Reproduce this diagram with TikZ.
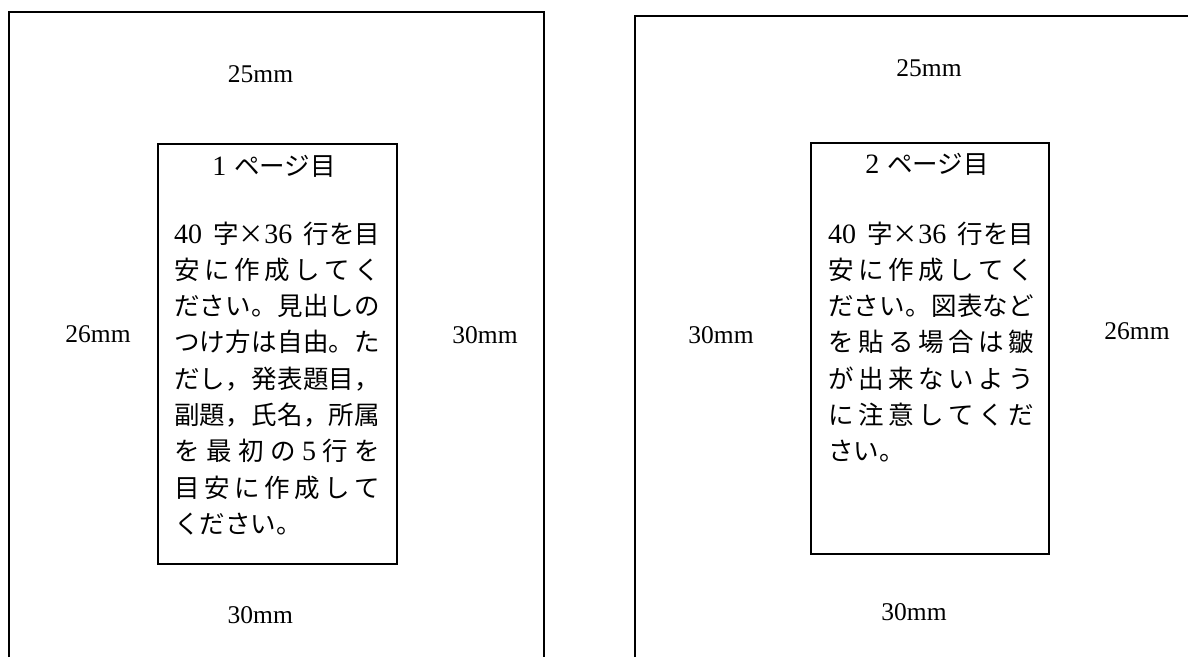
\documentclass[tikz,border=0pt]{standalone}
\usepackage{fontspec}
\setmainfont{Liberation Serif}
\newfontfamily\jp{Noto Sans CJK JP}
\newlength\jw \setlength\jw{206pt}
\newcommand\G{\hfil}
\newcommand\lat[1]{{\rmfamily\fontsize{28}{30}\selectfont #1}}
\newcommand\jl[1]{\hbox to \jw{#1}}
\begin{document}
\begin{tikzpicture}[x=1pt,y=-1pt,
  frame/.style={line width=1.5pt, draw=black},
  pagebox/.style={frame, inner sep=0pt, anchor=north west},
  lab/.style={anchor=base, inner sep=0pt, font=\fontsize{25.5}{30}\selectfont},
  jtxt/.style={anchor=base west, inner sep=0pt, font=\fontsize{25.5}{30}\selectfont\jp},
  jtitle/.style={anchor=base, inner sep=0pt, font=\fontsize{25.5}{30}\selectfont\jp}]
\fill[white] (0,0) rectangle (1188,657);
\useasboundingbox (0,0) rectangle (1188,657);

% outer page frames (open at bottom / right)
\draw[frame] (9,657) -- (9,12) -- (544,12) -- (544,657);
\draw[frame] (635,657) -- (635,16) -- (1188,16);

% inner text areas
\node[pagebox, minimum width=239pt, minimum height=420pt] (boxL) at (157,143) {};
\node[pagebox, minimum width=238pt, minimum height=411pt] (boxR) at (810,142) {};

% margin labels, left page
\node[lab] (lTop) at (260.5,82.6) {25mm};
\node[lab] (lLeft) at (98,342.6) {26mm};
\node[lab] (lRight) at (485,343.5) {30mm};
\node[lab] (lBottom) at (260.3,623.3) {30mm};

% margin labels, right page
\node[lab] (rTop) at (929,76) {25mm};
\node[lab] (rLeft) at (721,343.5) {30mm};
\node[lab] (rRight) at (1137,339) {26mm};
\node[lab] (rBottom) at (914,620.6) {30mm};

% left page text
\node[jtitle] (tL) at (274,175) {\lat{1}\hspace{0.3em}ページ目};
\node[jtxt] (l1) at (174,243) {\jl{\lat{40}\G 字×\lat{36}\G 行を目}};
\node[jtxt] (l2) at (174,279.3) {\jl{安\G に\G 作\G 成\G し\G て\G く}};
\node[jtxt] (l3) at (174,315.6) {\jl{だ\G さ\G い\G 。\G 見\G 出\G し\G の}};
\node[jtxt] (l4) at (174,351.9) {\jl{つ\G け\G 方\G は\G 自\G 由\G 。\G た}};
\node[jtxt] (l5) at (174,388.2) {\jl{だ\G し\G ，\G 発\G 表\G 題\G 目\G ，}};
\node[jtxt] (l6) at (174,424.5) {\jl{副\G 題\G ，\G 氏\G 名\G ，\G 所\G 属}};
\node[jtxt] (l7) at (174,460.8) {\jl{を\G 最\G 初\G の\G\lat{5}\G 行\G を}};
\node[jtxt] (l8) at (174,497.1) {\jl{目\G 安\G に\G 作\G 成\G し\G て}};
\node[jtxt] (l9) at (174,533.4) {ください。};

% right page text
\node[jtitle] (tR) at (927,173) {\lat{2}\hspace{0.3em}ページ目};
\node[jtxt] (r1) at (828,243) {\jl{\lat{40}\G 字×\lat{36}\G 行を目}};
\node[jtxt] (r2) at (828,279.3) {\jl{安\G に\G 作\G 成\G し\G て\G く}};
\node[jtxt] (r3) at (828,315.6) {\jl{だ\G さ\G い\G 。\G 図\G 表\G な\G ど}};
\node[jtxt] (r4) at (828,351.9) {\jl{を\G 貼\G る\G 場\G 合\G は\G 皺}};
\node[jtxt] (r5) at (828,388.2) {\jl{が\G 出\G 来\G な\G い\G よ\G う}};
\node[jtxt] (r6) at (828,424.5) {\jl{に\G 注\G 意\G し\G て\G く\G だ}};
\node[jtxt] (r7) at (828,460.8) {さい。};
\end{tikzpicture}
\end{document}
